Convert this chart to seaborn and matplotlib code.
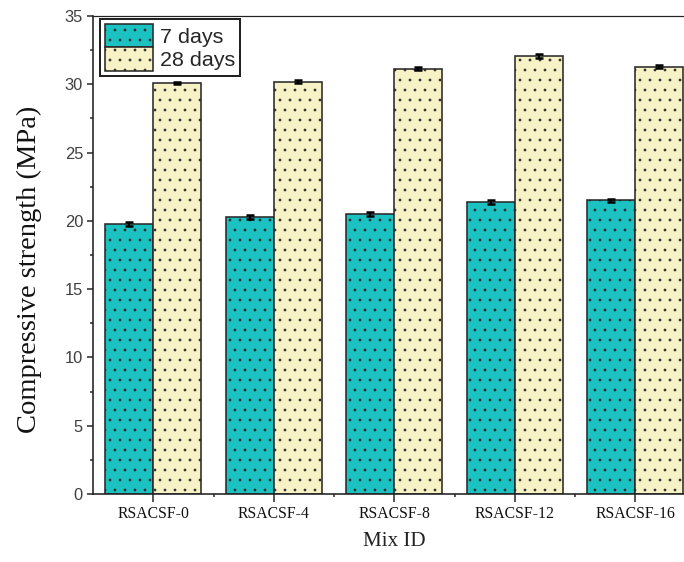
import matplotlib
matplotlib.use("Agg")
import matplotlib.pyplot as plt
from matplotlib.ticker import MultipleLocator
import seaborn as sns
import pandas as pd
import numpy as np

# ---- data ----
mixes = ["RSACSF-0", "RSACSF-4", "RSACSF-8", "RSACSF-12", "RSACSF-16"]
ages = ["7 days", "28 days"]
strength_7d = [19.75, 20.3, 20.5, 21.35, 21.5]
strength_28d = [30.1, 30.2, 31.15, 32.05, 31.3]
err_7d = [0.15, 0.15, 0.15, 0.15, 0.12]
err_28d = [0.1, 0.1, 0.1, 0.15, 0.08]
y_ticks = [0, 5, 10, 15, 20, 25, 30, 35]

DPI = 120
def pt(px):
    return px * 72.0 / DPI

TEAL = "#1CC2C2"
YELLOW = "#F8F3C6"
EDGE = "#2a2a2a"

sns.set_theme(style="ticks")
plt.rcParams["hatch.color"] = EDGE
plt.rcParams["hatch.linewidth"] = 0.45

df = pd.DataFrame({
    "Mix ID": mixes * 2,
    "Age": [ages[0]] * len(mixes) + [ages[1]] * len(mixes),
    "Strength": strength_7d + strength_28d,
})

fig = plt.figure(figsize=(684 / DPI, 562 / DPI), dpi=DPI)
ax = fig.add_axes([93 / 684, 68 / 562, 602.5 / 684, 478 / 562])

sns.barplot(data=df, x="Mix ID", y="Strength", hue="Age", hue_order=ages,
            order=mixes, palette=[TEAL, YELLOW], saturation=1, edgecolor=EDGE,
            linewidth=pt(1.6), errorbar=None, legend=False, ax=ax, zorder=2)

errs = [err_7d, err_28d]
for cont, e in zip(ax.containers, errs):
    xs = []
    ys = []
    for p in cont.patches:
        p.set_hatch("..")
        xs.append(p.get_x() + p.get_width() / 2)
        ys.append(p.get_height())
    ax.errorbar(xs, ys, yerr=e, fmt="none", ecolor="black",
                elinewidth=pt(2), capsize=pt(4), capthick=pt(2.5), zorder=3)

ax.set_xlim(-0.5, 4.5)
ax.set_ylim(0, 35)
ax.set_yticks(y_ticks)
ax.yaxis.set_minor_locator(MultipleLocator(2.5))
ax.set_xticks(range(len(mixes)))
ax.set_xticks(np.arange(0.5, len(mixes) - 0.5, 1.0), minor=True)

for s in ["left", "bottom", "top", "right"]:
    ax.spines[s].set_visible(True)
    ax.spines[s].set_color("#222222")
    ax.spines[s].set_linewidth(pt(1.6))
ax.spines["top"].set_linewidth(pt(1.2))

ax.tick_params(axis="y", which="major", direction="out", length=pt(6),
               width=pt(1.5), colors="#222222", labelcolor="#404040",
               labelsize=pt(16.5), pad=pt(4))
ax.tick_params(axis="y", which="minor", direction="out", length=pt(3),
               width=pt(1.5), colors="#222222")
ax.tick_params(axis="x", which="major", direction="out", length=pt(8),
               width=pt(1.5), colors="#222222", labelcolor="#111111",
               labelsize=pt(15.8), pad=pt(4))
ax.tick_params(axis="x", which="minor", direction="out", length=pt(3),
               width=pt(1.5), colors="#222222")
for lab in ax.get_yticklabels():
    lab.set_family(["Liberation Sans", "DejaVu Sans"])
for lab in ax.get_xticklabels():
    lab.set_family(["Liberation Serif", "DejaVu Serif"])

ax.set_xlabel("Mix ID", fontsize=pt(21), family=["Liberation Serif", "DejaVu Serif"],
              color="#222222", labelpad=pt(10))
ax.set_ylabel("Compressive strength (MPa)", fontsize=pt(28.5),
              family=["Liberation Serif", "DejaVu Serif"], color="#111111")
ax.yaxis.set_label_coords(-0.085, 0.47)

leg = ax.legend(handles=list(ax.containers), labels=ages, loc="upper left",
                bbox_to_anchor=(0.012, 0.994), borderaxespad=0,
                prop={"family": ["Liberation Sans", "DejaVu Sans"], "size": pt(21.5)},
                handlelength=2.25, handleheight=1.3, labelspacing=0.02,
                handletextpad=0.33, borderpad=0.22, fancybox=False,
                framealpha=1, edgecolor="#222222")
leg.get_frame().set_linewidth(pt(2))

fig.savefig("out.png", dpi=DPI)
